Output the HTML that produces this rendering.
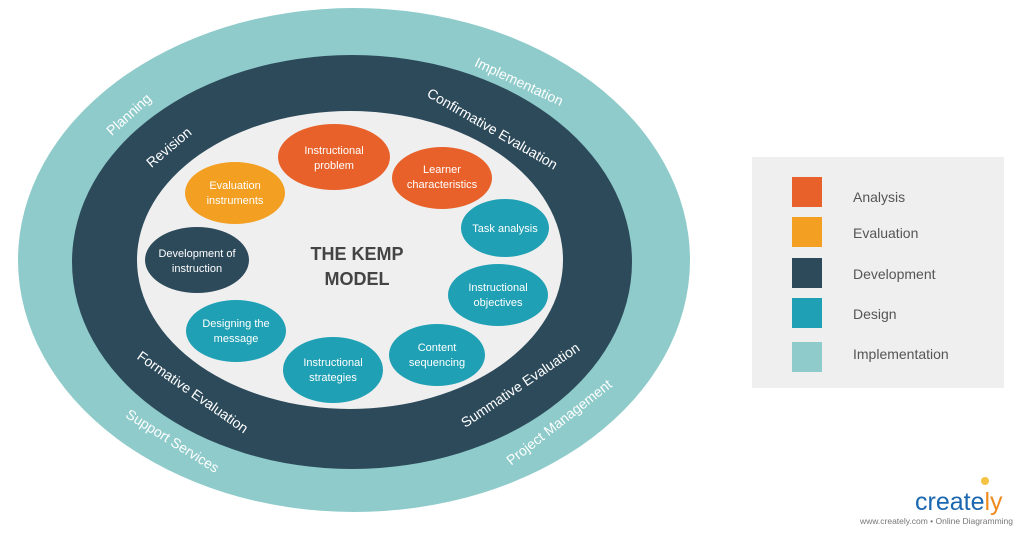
<!DOCTYPE html>
<html><head><meta charset="utf-8"><style>
body{margin:0;width:1024px;height:534px;background:#fff;overflow:hidden;font-family:"Liberation Sans",sans-serif}
</style></head><body>
<svg width="1024" height="534" viewBox="0 0 1024 534" xmlns="http://www.w3.org/2000/svg" font-family="Liberation Sans, sans-serif">
<ellipse cx="354" cy="260" rx="336" ry="252" fill="#8ecbca"/>
<ellipse cx="352" cy="262" rx="280" ry="207" fill="#2d4a5b"/>
<ellipse cx="350" cy="260" rx="213" ry="149" fill="#efefef"/>
<g fill="#fff" font-size="14" text-anchor="middle">
<text transform="translate(132,118) rotate(-42)">Planning</text>
<text transform="translate(517,86) rotate(25)">Implementation</text>
<text transform="translate(172,151) rotate(-40)">Revision</text>
<text transform="translate(490,133) rotate(30)">Confirmative Evaluation</text>
<text transform="translate(190,396) rotate(35)">Formative Evaluation</text>
<text transform="translate(523,389) rotate(-34)">Summative Evaluation</text>
<text transform="translate(170,445) rotate(32)">Support Services</text>
<text transform="translate(562,426) rotate(-38)">Project Management</text>
</g>
<g font-size="11" fill="#fff" text-anchor="middle">
<ellipse cx="334" cy="157" rx="56" ry="33" fill="#e8612a"/>
<text x="334" y="154">Instructional</text><text x="334" y="169">problem</text>
<ellipse cx="442" cy="178" rx="50" ry="31" fill="#e8612a"/>
<text x="442" y="173">Learner</text><text x="442" y="188">characteristics</text>
<ellipse cx="235" cy="193" rx="50" ry="31" fill="#f29f22"/>
<text x="235" y="189">Evaluation</text><text x="235" y="204">instruments</text>
<ellipse cx="505" cy="228" rx="44" ry="29" fill="#1fa0b4"/>
<text x="505" y="232">Task analysis</text>
<ellipse cx="197" cy="260" rx="52" ry="33" fill="#2d4a5b"/>
<text x="197" y="257">Development of</text><text x="197" y="272">instruction</text>
<ellipse cx="498" cy="295" rx="50" ry="31" fill="#1fa0b4"/>
<text x="498" y="291">Instructional</text><text x="498" y="306">objectives</text>
<ellipse cx="236" cy="331" rx="50" ry="31" fill="#1fa0b4"/>
<text x="236" y="327">Designing the</text><text x="236" y="342">message</text>
<ellipse cx="437" cy="355" rx="48" ry="31" fill="#1fa0b4"/>
<text x="437" y="351">Content</text><text x="437" y="366">sequencing</text>
<ellipse cx="333" cy="370" rx="50" ry="33" fill="#1fa0b4"/>
<text x="333" y="366">Instructional</text><text x="333" y="381">strategies</text>
</g>
<g font-size="18" font-weight="bold" fill="#444" text-anchor="middle">
<text x="357" y="260">THE KEMP</text><text x="357" y="285">MODEL</text>
</g>
<rect x="752" y="157" width="252" height="231" fill="#efefef"/>
<rect x="792" y="177" width="30" height="30" fill="#e8612a"/>
<rect x="792" y="217" width="30" height="30" fill="#f29f22"/>
<rect x="792" y="258" width="30" height="30" fill="#2d4a5b"/>
<rect x="792" y="298" width="30" height="30" fill="#1fa0b4"/>
<rect x="792" y="342" width="30" height="30" fill="#8ecbca"/>
<g font-size="14" fill="#555">
<text x="853" y="202">Analysis</text>
<text x="853" y="238">Evaluation</text>
<text x="853" y="279">Development</text>
<text x="853" y="319">Design</text>
<text x="853" y="359">Implementation</text>
</g>
<circle cx="985" cy="481" r="4" fill="#f5c242"/>
<text x="915" y="510" font-size="25" fill="#1a66b0">create<tspan fill="#f08a1c">ly</tspan></text>
<text x="1013" y="524" font-size="8.5" fill="#777" text-anchor="end">www.creately.com • Online Diagramming</text>
</svg>
</body></html>
